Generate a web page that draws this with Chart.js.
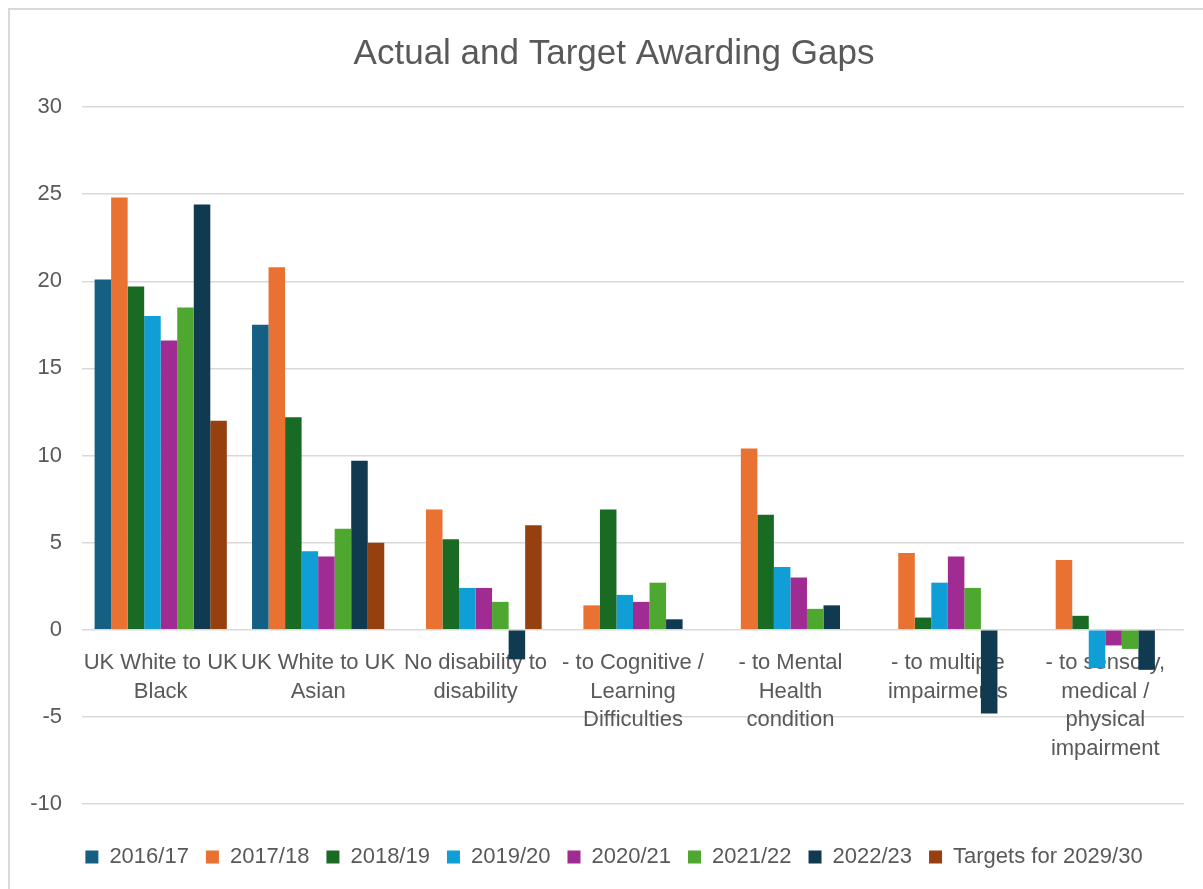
<!DOCTYPE html>
<html>
<head>
<meta charset="utf-8">
<script src="https://cdn.jsdelivr.net/npm/chart.js@4"></script>
<style>
  html, body { margin: 0; padding: 0; background: #fff; }
  #frame {
    position: absolute; left: 8px; top: 8px; width: 1300px; height: 1000px;
    border-left: 2px solid #d9d9d9; border-top: 2px solid #d9d9d9;
  }
  #wrap { position: absolute; left: 0; top: 0; width: 1203px; height: 889px; }
</style>
</head>
<body>
<div id="frame"></div>
<div id="wrap"><canvas id="gaps"></canvas></div>
<script>
// categories (multi-line like the Excel wrapping)
const categories = [
    ['UK White to UK', 'Black'],
    ['UK White to UK', 'Asian'],
    ['No disability to', 'disability'],
    ['- to Cognitive /', 'Learning', 'Difficulties'],
    ['- to Mental', 'Health', 'condition'],
    ['- to multiple', 'impairments'],
    ['- to sensory,', 'medical /', 'physical', 'impairment'],
];

const seriesNames = ['2016/17', '2017/18', '2018/19', '2019/20', '2020/21', '2021/22', '2022/23', 'Targets for 2029/30'];
const seriesColors = ['#156082', '#E97132', '#196B24', '#0F9ED5', '#A02B93', '#4EA72E', '#0F3A4F', '#97400F'];

const gap2016_17 = [20.1, 17.5, null, null, null, null, null];
const gap2017_18 = [24.8, 20.8, 6.9, 1.4, 10.4, 4.4, 4.0];
const gap2018_19 = [19.7, 12.2, 5.2, 6.9, 6.6, 0.7, 0.8];
const gap2019_20 = [18.0, 4.5, 2.4, 2.0, 3.6, 2.7, -2.2];
const gap2020_21 = [16.6, 4.2, 2.4, 1.6, 3.0, 4.2, -0.9];
const gap2021_22 = [18.5, 5.8, 1.6, 2.7, 1.2, 2.4, -1.1];
const gap2022_23 = [24.4, 9.7, -1.7, 0.6, 1.4, -4.8, -2.3];
const targets2029_30 = [12, 5, 6, null, null, null, null];

const seriesData = [gap2016_17, gap2017_18, gap2018_19, gap2019_20, gap2020_21, gap2021_22, gap2022_23, targets2029_30];

const yTicks = { min: -10, max: 30, step: 5 };

const textColor = '#595959';
const gridColor = '#d9d9d9';
const fontFamily = '"Liberation Sans", Arial, sans-serif';

new Chart(document.getElementById('gaps'), {
    type: 'bar',
    data: {
        labels: categories,
        datasets: seriesNames.map((name, i) => ({
            label: name,
            data: seriesData[i],
            backgroundColor: seriesColors[i],
            borderWidth: 0,
            categoryPercentage: 0.84,
            barPercentage: 1.0,
        }))
    },
    options: {
        responsive: true,
        maintainAspectRatio: false,
        animation: false,
        // left padding so title + legend sit centred like in Excel
        layout: { padding: { left: 25, right: 0, top: 0, bottom: 11 } },
        plugins: {
            tooltip: { enabled: false },
            title: {
                display: true,
                text: 'Actual and Target Awarding Gaps',
                color: textColor,
                font: { family: fontFamily, size: 35, weight: 'normal', lineHeight: 1.2 },
                padding: { top: 33, bottom: 32 }
            },
            legend: {
                position: 'bottom',
                // empty title only used as spacer between plot and legend
                title: { display: true, text: '', font: { size: 10, lineHeight: 1 }, padding: { top: 15, bottom: 0 } },
                labels: {
                    color: textColor,
                    font: { family: fontFamily, size: 22 },
                    boxWidth: 13,
                    boxHeight: 13,
                    padding: 17
                }
            }
        },
        scales: {
            x: {
                position: { y: 0 },
                grid: { display: false, drawTicks: false },
                border: { display: false },
                ticks: {
                    color: textColor,
                    font: { family: fontFamily, size: 22, lineHeight: 1.3 },
                    autoSkip: false,
                    maxRotation: 0,
                    minRotation: 0,
                    padding: 19
                }
            },
            y: {
                min: yTicks.min,
                max: yTicks.max,
                afterFit(scale) { scale.width = 57; },
                grid: { color: gridColor, lineWidth: 1.5, drawTicks: false },
                border: { display: false },
                ticks: {
                    stepSize: yTicks.step,
                    color: textColor,
                    font: { family: fontFamily, size: 22 },
                    padding: 20
                }
            },
            // empty right-hand spacer so the plot ends where Excel's does
            yRight: {
                position: 'right',
                afterFit(scale) { scale.width = 19; },
                grid: { display: false, drawTicks: false },
                border: { display: false },
                ticks: { display: false }
            }
        }
    }
});
</script>
</body>
</html>
